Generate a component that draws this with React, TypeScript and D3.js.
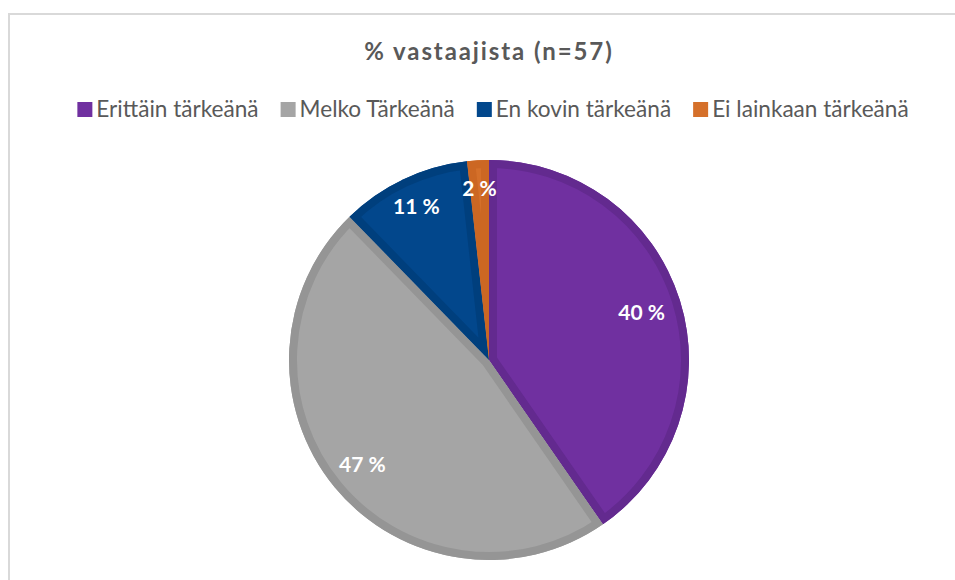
import React, { useEffect, useRef } from 'react';
import * as d3 from 'd3';

const chartTitle = '% vastaajista (n=57)';
const categories = ['Erittäin tärkeänä', 'Melko Tärkeänä', 'En kovin tärkeänä', 'Ei lainkaan tärkeänä'];
const counts = [23, 27, 6, 1];
const fillColors = ['#7030A0', '#A5A5A5', '#02478C', '#D5702A'];
const borderColors = ['#632A8F', '#959595', '#003F7D', '#CC6723'];
const labelRadiusFactors = [0.8, 0.82, 0.85, 0.86];

const W = 955;
const H = 580;
const CX = 489;
const CY = 360;
const R = 200;

export default function App() {
  const ref = useRef<SVGSVGElement | null>(null);

  useEffect(() => {
    const svg = d3.select(ref.current);
    svg.selectAll('*').remove();

    svg.append('rect').attr('x', 0).attr('y', 0).attr('width', W).attr('height', H).attr('fill', '#fff');
    svg.append('rect')
      .attr('x', 9).attr('y', 14).attr('width', W + 20).attr('height', H + 20)
      .attr('fill', 'none').attr('stroke', '#D9D9D9').attr('stroke-width', 2);

    svg.append('text')
      .attr('x', CX).attr('y', 60)
      .attr('text-anchor', 'middle')
      .attr('font-family', 'Lato, sans-serif')
      .attr('font-weight', 700)
      .attr('font-size', 24)
      .attr('letter-spacing', 1.9)
      .attr('fill', '#595959')
      .text(chartTitle);

    // Legend
    const lg = svg.append('g');
    const items = lg.selectAll('g.item').data(categories).enter().append('g').attr('class', 'item');
    items.append('rect').attr('width', 15).attr('height', 15).attr('y', 102)
      .attr('fill', (_d, i) => fillColors[i]);
    const texts = items.append('text')
      .attr('y', 117)
      .attr('font-family', 'Lato, sans-serif')
      .attr('font-size', 22.6)
      .attr('fill', '#595959')
      .text(d => d);
    const widths: number[] = [];
    texts.each(function () { widths.push((this as SVGTextElement).getComputedTextLength()); });
    const markerW = 15, gapMT = 4, gapItem = 22;
    const total = widths.reduce((a, w) => a + markerW + gapMT + w, 0) + gapItem * (widths.length - 1);
    let x = 493 - total / 2;
    items.each(function (_d, i) {
      const g = d3.select(this);
      g.select('rect').attr('x', x);
      g.select('text').attr('x', x + markerW + gapMT);
      x += markerW + gapMT + widths[i] + gapItem;
    });

    // Pie
    const pie = d3.pie<number>().sort(null).value(d => d);
    const arcs = pie(counts);
    const arc = d3.arc<d3.PieArcDatum<number>>().innerRadius(0).outerRadius(R);
    const pg = svg.append('g').attr('transform', `translate(${CX},${CY})`);
    const defs = svg.append('defs');
    arcs.forEach((a, i) => {
      defs.append('clipPath').attr('id', `slice-clip-${i}`)
        .append('path').attr('d', arc(a) as string);
    });
    pg.selectAll('path.fill').data(arcs).enter().append('path')
      .attr('class', 'fill')
      .attr('d', d => arc(d) as string)
      .attr('fill', (_d, i) => fillColors[i]);
    pg.selectAll('path.border').data(arcs).enter().append('path')
      .attr('class', 'border')
      .attr('d', d => arc(d) as string)
      .attr('fill', 'none')
      .attr('stroke', (_d, i) => borderColors[i])
      .attr('stroke-width', 16)
      .attr('stroke-linejoin', 'miter')
      .attr('clip-path', (_d, i) => `url(#slice-clip-${i})`);

    const sum = d3.sum(counts);
    pg.selectAll('text.lbl').data(arcs).enter().append('text')
      .attr('class', 'lbl')
      .attr('transform', (d, i) => {
        const rr = R * labelRadiusFactors[i];
        const c = d3.arc<d3.PieArcDatum<number>>().innerRadius(rr).outerRadius(rr).centroid(d);
        return `translate(${c[0]},${c[1]})`;
      })
      .attr('text-anchor', 'middle')
      .attr('dy', '0.35em')
      .attr('font-family', 'Lato, sans-serif')
      .attr('font-weight', 700)
      .attr('font-size', 21)
      .attr('fill', '#fff')
      .text(d => `${Math.round((d.data / sum) * 100)} %`);
  }, []);

  return (
    <svg ref={ref} width={W} height={H} style={{ position: 'absolute', left: 0, top: 0, display: 'block' }} />
  );
}
